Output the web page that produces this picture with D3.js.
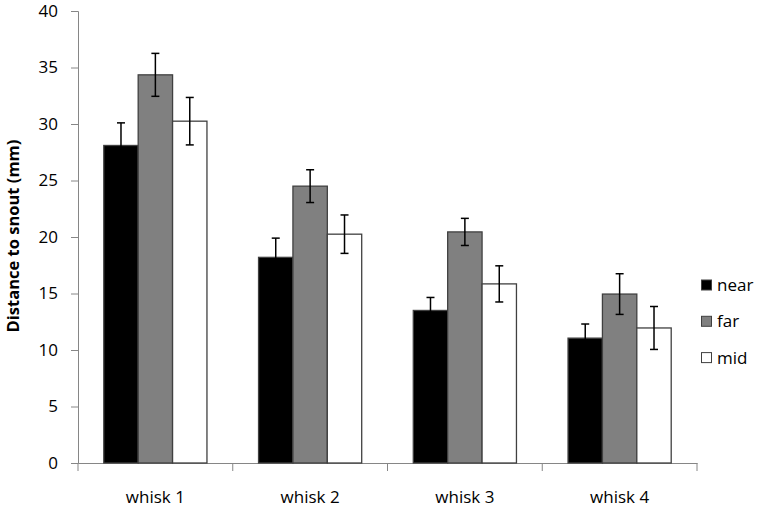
<!DOCTYPE html>
<html><head><meta charset="utf-8">
<script src="https://cdn.jsdelivr.net/npm/d3@7"></script>
<style>body{margin:0;background:#fff}svg{display:block}</style>
</head><body>
<svg id="c" width="760" height="507"></svg>
<script>
const categories = ["whisk 1","whisk 2","whisk 3","whisk 4"];
const seriesNames = ["near","far","mid"];
const nearVals = [28.1, 18.2, 13.5, 11.05];
const farVals  = [34.35, 24.5, 20.45, 14.95];
const midVals  = [30.25, 20.25, 15.85, 11.95];
const nearErr = [2.0, 1.7, 1.15, 1.25];
const farErr  = [1.9, 1.45, 1.2, 1.8];
const midErr  = [2.1, 1.7, 1.6, 1.9];
const yTicks = [0,5,10,15,20,25,30,35,40];

const colors = {near:"#000000", far:"#808080", mid:"#ffffff"};
const values = {near:nearVals, far:farVals, mid:midVals};
const errs = {near:nearErr, far:farErr, mid:midErr};

const svg = d3.select("#c");
const font = "'Open Sans', Lato, sans-serif";
const x0 = d3.scaleBand().domain(categories).range([78, 697]).paddingInner(0).paddingOuter(0);
const x1 = d3.scaleBand().domain(seriesNames).range([0, x0.bandwidth()]).paddingInner(0).paddingOuter(0.75);
const y = d3.scaleLinear().domain([0,40]).range([463, 11]);

// y axis
const yAxis = svg.append("g").attr("transform","translate(78,0)")
  .call(d3.axisLeft(y).tickValues(yTicks).tickSize(7).tickPadding(13));
yAxis.select(".domain").attr("stroke","#868686");
yAxis.selectAll(".tick line").attr("stroke","#868686");
yAxis.selectAll("text").attr("font-family",font).attr("font-size","17px").attr("fill","#000");

// x axis
const xAxis = svg.append("g").attr("transform","translate(0,463)")
  .call(d3.axisBottom(x0).tickSize(0).tickPadding(28));
xAxis.select(".domain").attr("stroke","#868686");
xAxis.selectAll("text").attr("font-family",font).attr("font-size","17px").attr("fill","#000");
// category boundary tick marks
const bounds = [0,1,2,3,4].map(i => 78 + i*x0.step());
svg.append("g").selectAll("line").data(bounds).join("line")
  .attr("x1",d=>d).attr("x2",d=>d).attr("y1",463).attr("y2",471)
  .attr("stroke","#868686");

// bars
const g = svg.append("g");
categories.forEach((c,i) => {
  seriesNames.forEach(s => {
    const v = values[s][i];
    const bx = x0(c) + x1(s);
    g.append("rect")
      .attr("x", bx).attr("y", y(v))
      .attr("width", x1.bandwidth()).attr("height", y(0)-y(v))
      .attr("fill", colors[s]).attr("stroke", "#404040").attr("stroke-width", 1.3);
  });
});
// error bars
categories.forEach((c,i) => {
  seriesNames.forEach(s => {
    const v = values[s][i], e = errs[s][i];
    const cx = x0(c) + x1(s) + x1.bandwidth()/2;
    const eg = g.append("g").attr("stroke","#000").attr("stroke-width",1.5);
    eg.append("line").attr("x1",cx).attr("x2",cx).attr("y1",y(v+e)).attr("y2",y(v-e));
    eg.append("line").attr("x1",cx-4).attr("x2",cx+4).attr("y1",y(v+e)).attr("y2",y(v+e));
    eg.append("line").attr("x1",cx-4).attr("x2",cx+4).attr("y1",y(v-e)).attr("y2",y(v-e));
  });
});

// y title
svg.append("text")
  .attr("transform","translate(19,236) rotate(-90)")
  .attr("text-anchor","middle")
  .attr("font-family",font).attr("font-size","16.5px").attr("font-weight","bold")
  .text("Distance to snout (mm)");

// legend
const leg = svg.append("g");
seriesNames.forEach((s,i) => {
  const ly = 285 + i*36.3;
  leg.append("rect").attr("x",701.5).attr("y",ly-5).attr("width",10).attr("height",10)
    .attr("fill",colors[s]).attr("stroke","#404040").attr("stroke-width",1);
  leg.append("text").attr("x",717).attr("y",ly).attr("dy","0.35em")
    .attr("font-family",font).attr("font-size","17px").text(s);
});
</script>
</body></html>
